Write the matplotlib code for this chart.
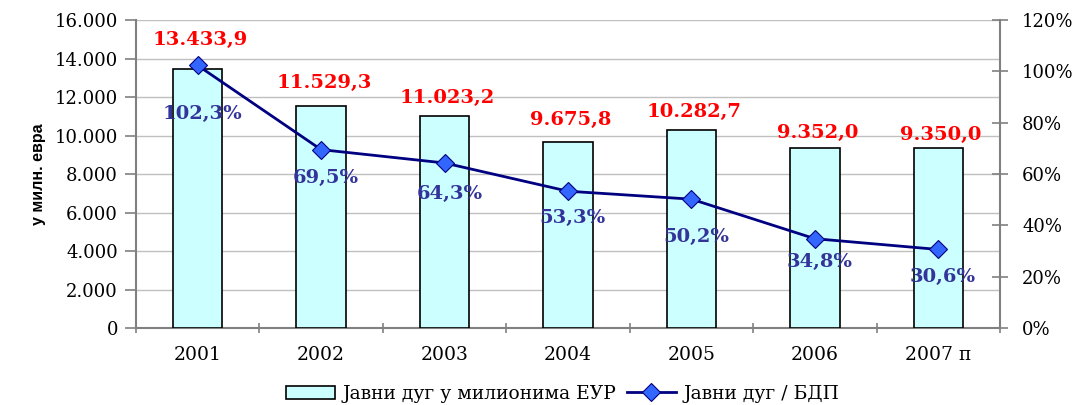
import matplotlib.pyplot as plt
import numpy as np
from matplotlib.ticker import FuncFormatter, MultipleLocator

years = ['2001', '2002', '2003', '2004', '2005', '2006', '2007 п']
debt_eur = [13433.9, 11529.3, 11023.2, 9675.8, 10282.7, 9352.0, 9350.0]
debt_gdp = [102.3, 69.5, 64.3, 53.3, 50.2, 34.8, 30.6]

# label offsets in points (layout only)
eur_dy = [21.5, 16.5, 13, 16, 13, 11, 9.5]
pct_dy = [-35, -20.5, -22, -19.5, -27, -17, -19.5]

plt.rcParams['font.family'] = ['DejaVu Serif']

fig = plt.figure(figsize=(10.86, 4.05), dpi=100)
ax = fig.add_axes([0.1252, 0.1901, 0.7956, 0.7605])
x = np.arange(len(years))

grid_c = '#c0c0c0'
spine_c = '#808080'

ax.bar(x, debt_eur, width=0.4, color='#ccffff', edgecolor='black', linewidth=1.2,
       zorder=3, label='Јавни дуг у милионима ЕУР')
ax.set_xlim(-0.5, 6.5)
ax.set_ylim(0, 16000)
ax.yaxis.set_major_locator(MultipleLocator(2000))
ax.yaxis.set_major_formatter(FuncFormatter(lambda v, p: '{:,.0f}'.format(v).replace(',', '.')))
ax.grid(axis='y', color=grid_c, linewidth=1, zorder=0)
ax.set_xticks(x)
ax.set_xticklabels(years, fontsize=13.5)
ax.tick_params(axis='x', length=0, pad=13)
ax.set_xticks(np.arange(-0.5, 7, 1), minor=True)
ax.tick_params(axis='x', which='minor', length=7, direction='inout', color=spine_c, width=1.2)
ax.tick_params(axis='y', labelsize=13, length=8, color=spine_c, width=1.2, pad=5)
for s in ['left', 'bottom', 'right']:
    ax.spines[s].set_color(spine_c)
    ax.spines[s].set_linewidth(1.5)
ax.spines['top'].set_visible(False)

for xi, v, dy in zip(x, debt_eur, eur_dy):
    txt = '{:,.1f}'.format(v).replace(',', ' ').replace('.', ',').replace(' ', '.')
    ax.annotate(txt, (xi, v), xytext=(2, dy), textcoords='offset points', ha='center',
                va='center', color='red', fontsize=14, fontweight='bold', zorder=6)

ax.set_ylabel('у милн. евра', family=['Liberation Sans Narrow', 'Liberation Sans'],
              fontsize=11.5, fontweight='bold', labelpad=6)

ax2 = ax.twinx()
ax2.plot(x, debt_gdp, color='#000080', linewidth=2, marker='D', markersize=9,
         markerfacecolor='#3366ff', markeredgecolor='#000080', markeredgewidth=0.8,
         zorder=5, label='Јавни дуг / БДП')
ax2.set_ylim(0, 120)
ax2.yaxis.set_major_locator(MultipleLocator(20))
ax2.yaxis.set_major_formatter(FuncFormatter(lambda v, p: '{:.0f}%'.format(v)))
ax2.tick_params(axis='y', labelsize=13, length=12, direction='inout', color=spine_c, width=1.2, pad=10)
for s in ax2.spines.values():
    s.set_visible(False)

for xi, v, dy in zip(x, debt_gdp, pct_dy):
    ax2.annotate('{:.1f}%'.format(v).replace('.', ','), (xi, v), xytext=(3.5, dy),
                 textcoords='offset points', ha='center', va='center', color='#333399',
                 fontsize=14, fontweight='bold', zorder=6)

h1, l1 = ax.get_legend_handles_labels()
h2, l2 = ax2.get_legend_handles_labels()
fig.legend(h1 + h2, l1 + l2, loc='center', bbox_to_anchor=(0.518, 0.028), ncol=2,
           frameon=False, fontsize=13.5, handlelength=2.6, handletextpad=0.4, columnspacing=0.6)

fig.savefig('out.png', dpi=100)
